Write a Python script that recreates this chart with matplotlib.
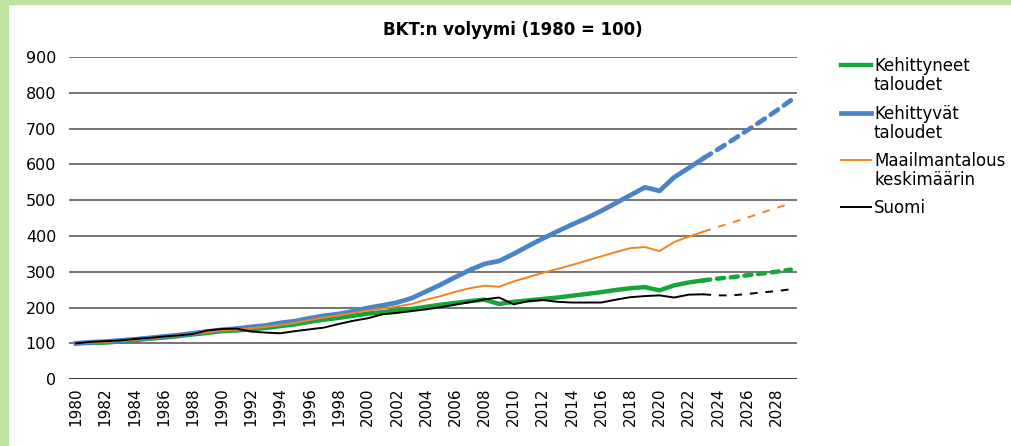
import matplotlib.pyplot as plt
from matplotlib.lines import Line2D
from matplotlib.patches import Rectangle

years = list(range(1980, 2024))
years_fc = list(range(2023, 2030))

# BKT:n volyymi, 1980 = 100 (luettu kuvasta)
kehittyneet = [100, 101, 102, 105, 109, 113, 116, 120, 125, 129, 134, 136, 139, 143, 148,
               153, 160, 166, 171, 177, 183, 187, 192, 196, 202, 208, 213, 218, 222, 210,
               216, 220, 224, 228, 233, 238, 243, 249, 254, 257, 248, 262, 270, 276]
kehittyvat = [100, 103, 105, 108, 111, 115, 119, 123, 128, 133, 138, 141, 146, 150, 157,
              162, 170, 177, 182, 190, 199, 206, 214, 226, 245, 264, 285, 305, 322, 330,
              350, 372, 393, 413, 432, 450, 470, 492, 514, 536, 526, 564, 590, 617]
maailma = [100, 102, 104, 107, 110, 114, 118, 122, 126, 131, 136, 138, 142, 146, 151,
           157, 165, 172, 178, 185, 192, 197, 203, 210, 222, 232, 244, 254, 261, 258,
           273, 285, 297, 308, 319, 331, 343, 355, 366, 369, 358, 383, 398, 412]
suomi = [100, 104, 106, 108, 112, 115, 119, 122, 126, 136, 140, 141, 133, 130, 128,
         134, 139, 144, 154, 163, 170, 181, 185, 190, 195, 201, 208, 215, 223, 228,
         209, 218, 221, 216, 214, 214, 214, 222, 229, 232, 234, 228, 236, 237]

# ennusteet 2024-2029
kehittyneet_fc = [281, 285, 290, 295, 300, 306]
kehittyvat_fc = [642, 668, 695, 722, 750, 779]
maailma_fc = [425, 438, 451, 465, 478, 492]
suomi_fc = [234, 234, 238, 242, 246, 251]

labels = ["Kehittyneet\ntaloudet", "Kehittyvät\ntaloudet",
          "Maailmantalous\nkeskimäärin", "Suomi"]
colors = ["#16a53a", "#4a84c6", "#f5821f", "#000000"]
widths = [3.2, 3.4, 1.4, 1.4]
fc_dashes = [(1.6, 1.5), (1.9, 1.5), (4, 4), (4, 4)]

plt.rcParams["font.family"] = ["DejaVu Sans"]

fig = plt.figure(figsize=(10.11, 4.46), dpi=100)
ax = fig.add_axes([0.068, 0.150, 0.720, 0.722])

# vihreä reunus vasemmalla ja ylhäällä
fig.add_artist(Rectangle((0, 0), 8 / 1011, 1, transform=fig.transFigure,
                         color="#bde3a0", zorder=0))
fig.add_artist(Rectangle((0, 1 - 4 / 446), 1, 4 / 446, transform=fig.transFigure,
                         color="#bde3a0", zorder=0))

for y in range(0, 1000, 100):
    ax.axhline(y, color="#000000" if y == 0 else "#505050", lw=1.1, zorder=1)

series = [(kehittyneet, kehittyneet_fc), (kehittyvat, kehittyvat_fc),
          (maailma, maailma_fc), (suomi, suomi_fc)]
order = [3, 2, 0, 1]
for i in order:
    hist, fc = series[i]
    ax.plot(years, hist, color=colors[i], lw=widths[i], zorder=3 + i,
            solid_joinstyle="round")
    ax.plot(years_fc, [hist[-1]] + fc, color=colors[i], lw=widths[i],
            dashes=fc_dashes[i],
            dash_capstyle="round" if widths[i] > 2 else "butt", zorder=3 + i)

ax.set_xlim(1979.5, 2029.4)
ax.set_ylim(0, 900)
ax.set_yticks(range(0, 1000, 100))
ax.set_xticks(range(1980, 2030, 2))
ax.set_xticklabels([str(y) for y in range(1980, 2030, 2)], rotation=90, fontsize=11)
ax.tick_params(axis="y", labelsize=11.5, length=0, pad=9)
ax.tick_params(axis="x", length=0, pad=6)
for s in ax.spines.values():
    s.set_visible(False)

fig.text(0.507, 0.933, "BKT:n volyymi (1980 = 100)", ha="center", va="center",
         fontsize=12, fontweight="bold")

# selite
leg_y = [65, 113, 160, 207]
for i, lab in enumerate(labels):
    yy = 1 - leg_y[i] / 446
    fig.add_artist(Line2D([841 / 1011, 871 / 1011], [yy, yy], transform=fig.transFigure,
                          color=colors[i], lw=widths[i]))
    fig.text(874 / 1011, yy + 8 / 446, lab, ha="left", va="top", fontsize=12,
             linespacing=1.05)

fig.savefig("out.png", dpi=100)
